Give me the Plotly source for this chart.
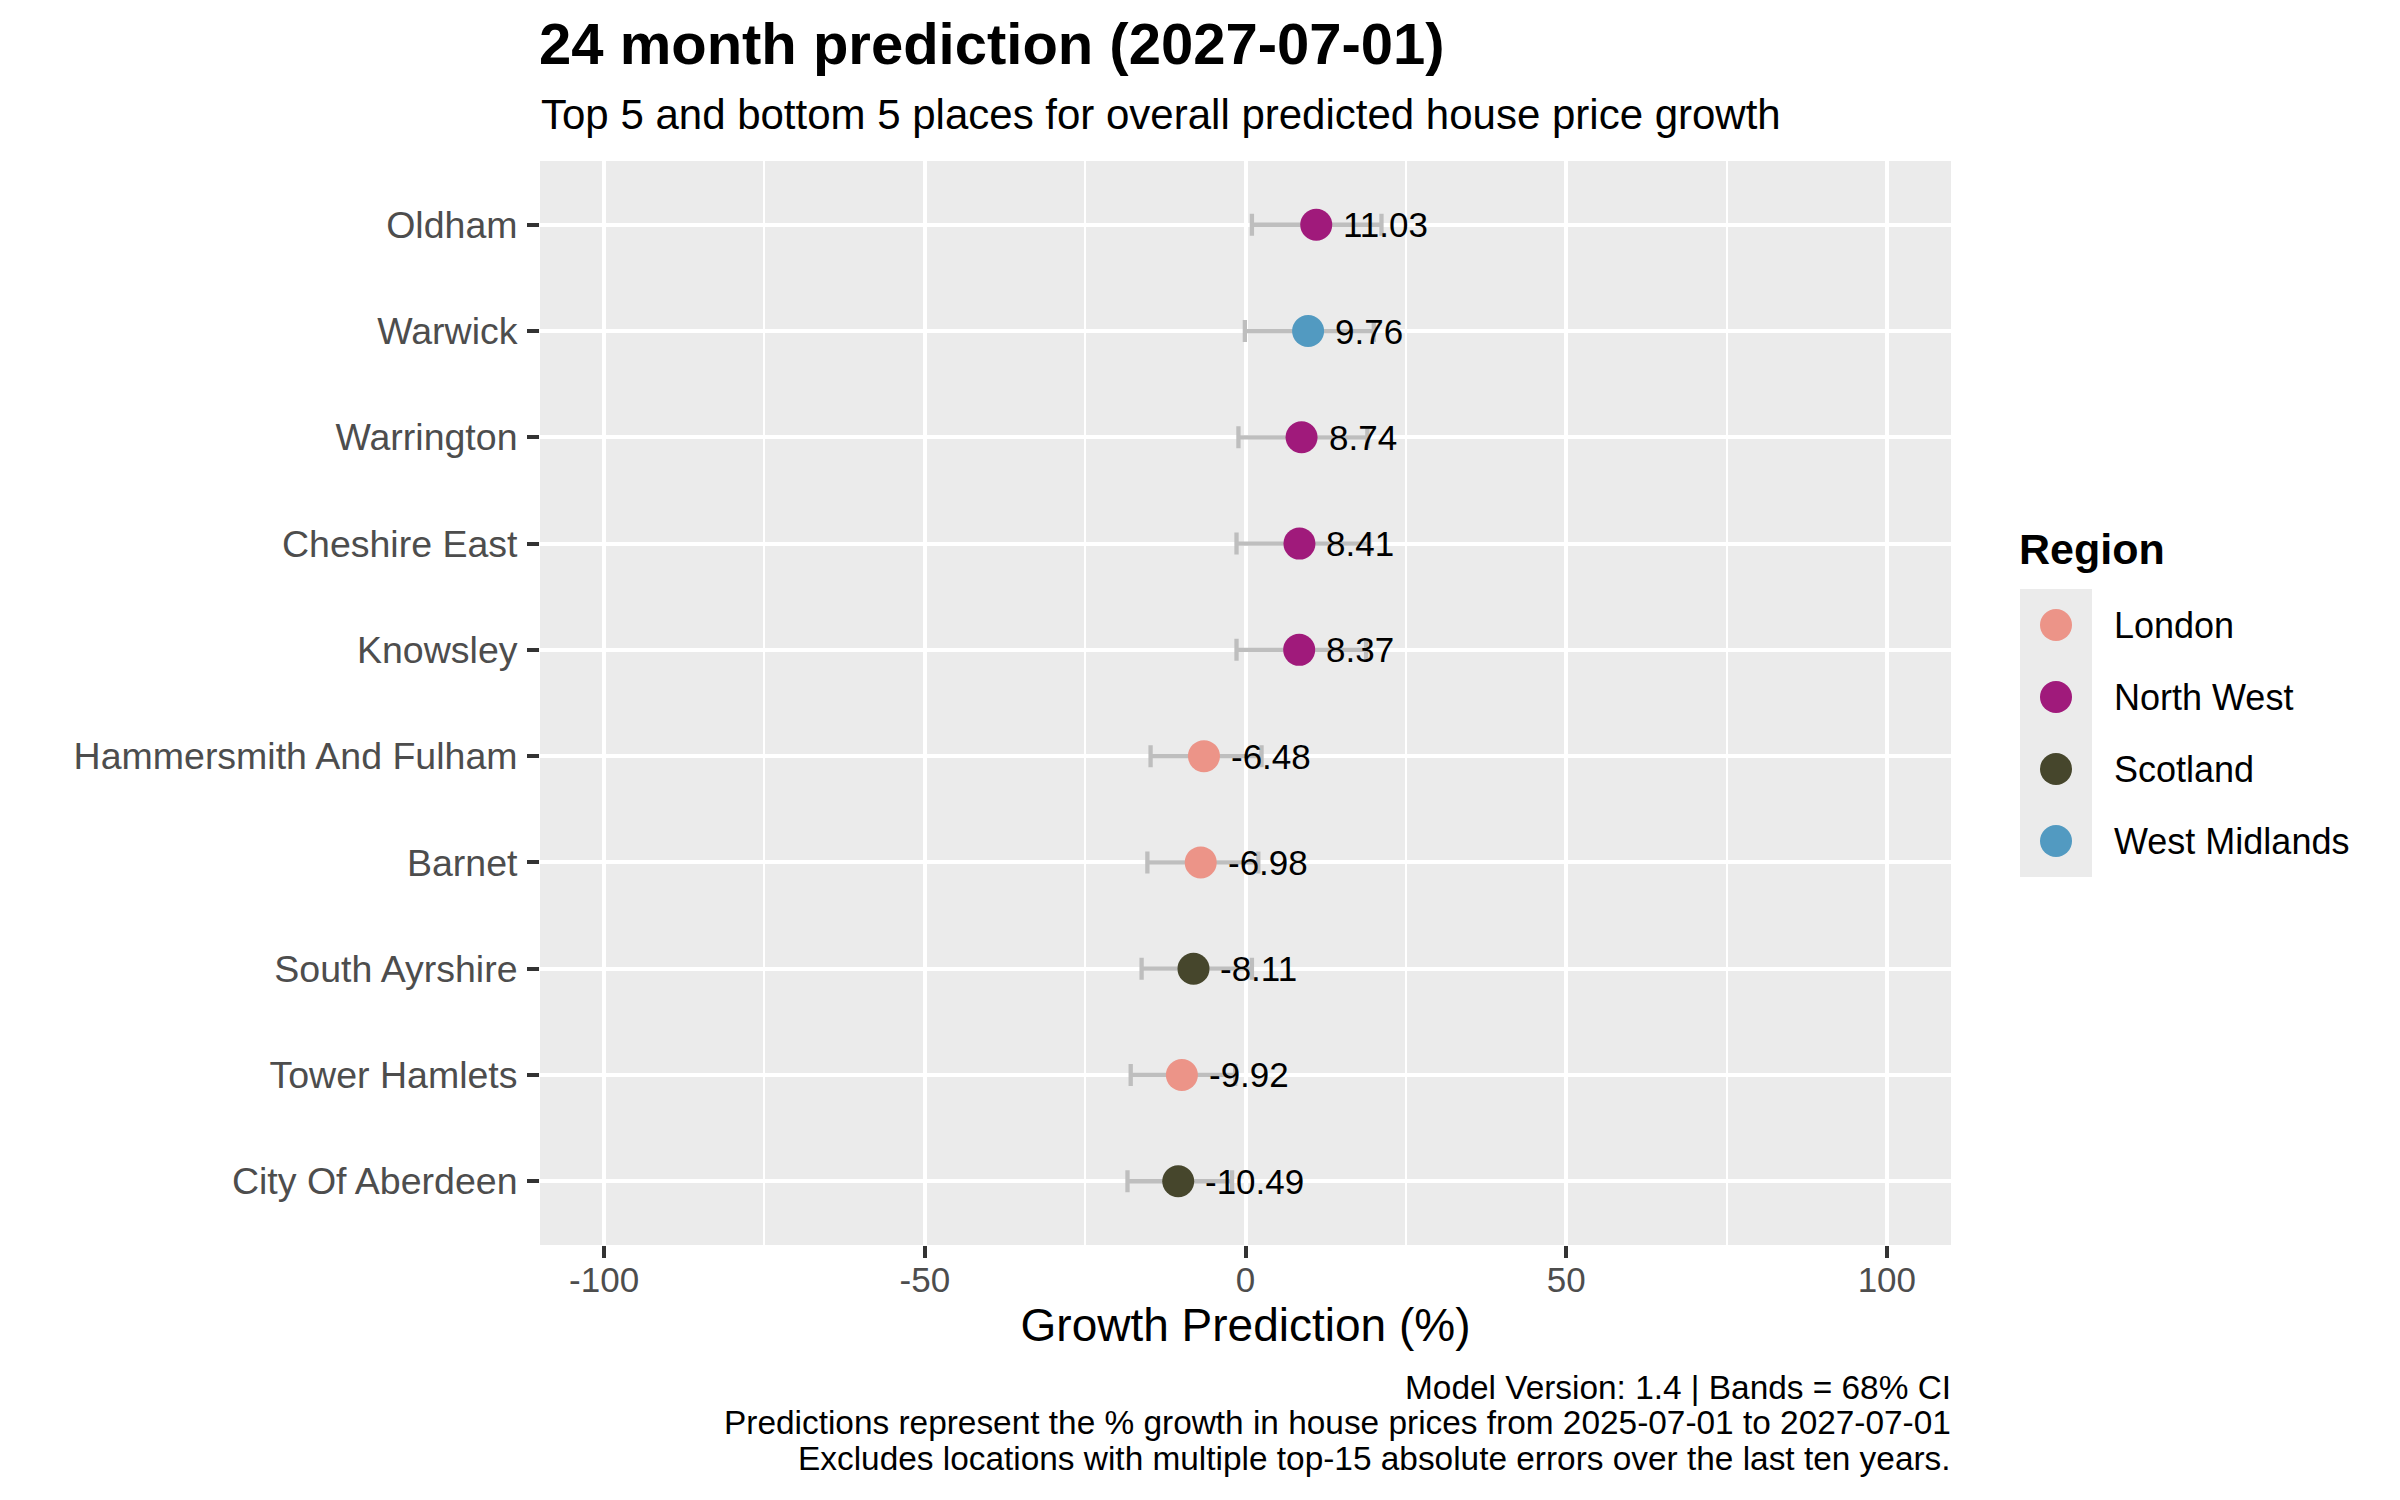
import plotly.graph_objects as go

# ---------------- data ----------------
places = ["Oldham", "Warwick", "Warrington", "Cheshire East", "Knowsley",
          "Hammersmith And Fulham", "Barnet", "South Ayrshire", "Tower Hamlets",
          "City Of Aberdeen"]
regions = ["North West", "West Midlands", "North West", "North West", "North West",
           "London", "London", "Scotland", "London", "Scotland"]
growth = [11.03, 9.76, 8.74, 8.41, 8.37, -6.48, -6.98, -8.11, -9.92, -10.49]
ci_low = [1.0, -0.1, -1.1, -1.4, -1.4, -14.8, -15.3, -16.2, -17.9, -18.4]
ci_high = [21.2, 20.0, 19.0, 19.3, 18.8, 2.5, 2.0, 1.0, -1.6, -2.1]

region_names = ["London", "North West", "Scotland", "West Midlands"]
region_colors = ["#EC9488", "#A01A7B", "#46462C", "#529AC1"]

x_ticks = [-100, -50, 0, 50, 100]
x_range = [-110, 110]

title_text = "<b>24 month prediction (2027-07-01)</b>"
subtitle_text = "Top 5 and bottom 5 places for overall predicted house price growth"
x_title = "Growth Prediction (%)"
legend_title = "<b>Region</b>"
caption_lines = [
    "Model Version: 1.4 | Bands = 68% CI",
    "Predictions represent the % growth in house prices from 2025-07-01 to 2027-07-01",
    "Excludes locations with multiple top-15 absolute errors over the last ten years.",
]

# ---------------- layout helpers (pixel geometry) ----------------
# the page body has an 8px margin, so the figure is drawn 8px in from the corner
OFF = 8
W, H = 2400 - OFF, 1500 - OFF
FONT = "Liberation Sans, Arial, Helvetica, sans-serif"


def px(xp):
    return (xp - OFF) / W


def py(yp):
    return 1 - (yp - OFF) / H


PANEL_L, PANEL_R, PANEL_T, PANEL_B = 540, 1951, 161, 1245

fig = go.Figure()

color_of = dict(zip(region_names, region_colors))
for reg in region_names:
    idx = [i for i, r in enumerate(regions) if r == reg]
    if not idx:
        continue
    xs = [growth[i] for i in idx]
    ys = [places[i] for i in idx]
    plus = [ci_high[i] - growth[i] for i in idx]
    minus = [growth[i] - ci_low[i] for i in idx]
    fig.add_trace(go.Scatter(
        x=xs, y=ys, mode="markers", name=reg, showlegend=False,
        marker=dict(size=32, color=color_of[reg], line=dict(width=0)),
        error_x=dict(type="data", symmetric=False, array=plus, arrayminus=minus,
                     color="#BEBEBE", thickness=4.3, width=11),
        xaxis="x", yaxis="y",
    ))

annotations = []
# value labels
for p, g in zip(places, growth):
    annotations.append(dict(
        x=g, y=p, xref="x", yref="y", text=f"{g:.2f}", showarrow=False,
        xanchor="left", yanchor="middle", xshift=25,
        font=dict(family=FONT, size=35, color="#000000"),
    ))

# manual legend (keys drawn on a small dedicated axis)
fig.add_trace(go.Scatter(
    x=[0.5] * len(region_names), y=region_names, mode="markers", showlegend=False,
    marker=dict(size=32, color=region_colors, line=dict(width=0)),
    xaxis="x2", yaxis="y2", hoverinfo="y",
))
for reg in region_names:
    annotations.append(dict(
        x=0.5, y=reg, xref="x2", yref="y2", text=reg, showarrow=False,
        xanchor="left", yanchor="middle", xshift=56,
        font=dict(family=FONT, size=36, color="#000000"),
    ))
annotations.append(dict(
    x=px(2017), y=py(549), xref="paper", yref="paper", text=legend_title,
    showarrow=False, xanchor="left", yanchor="middle",
    font=dict(family=FONT, size=43, color="#000000"),
))

# subtitle
annotations.append(dict(
    x=px(539), y=py(115), xref="paper", yref="paper", text=subtitle_text,
    showarrow=False, xanchor="left", yanchor="middle",
    font=dict(family=FONT, size=42, color="#000000"),
))

# caption
for line, yc in zip(caption_lines, [1387, 1422, 1458]):
    annotations.append(dict(
        x=px(1953), y=py(yc), xref="paper", yref="paper", text=line,
        showarrow=False, xanchor="right", yanchor="middle",
        font=dict(family=FONT, size=33.4, color="#000000"),
    ))

fig.update_layout(
    width=W, height=H,
    margin=dict(l=0, r=0, t=0, b=0, autoexpand=False),
    paper_bgcolor="#FFFFFF",
    plot_bgcolor="#EBEBEB",
    font=dict(family=FONT, color="#000000"),
    showlegend=False,
    title=dict(text=title_text, x=px(539), xref="paper", xanchor="left",
               y=py(44), yref="paper", yanchor="middle",
               font=dict(family=FONT, size=58, color="#000000")),
    xaxis=dict(
        domain=[px(PANEL_L), px(PANEL_R)], anchor="y",
        range=x_range, tickvals=x_ticks, ticktext=[str(v) for v in x_ticks],
        showgrid=True, gridcolor="#FFFFFF", gridwidth=4.3, zeroline=False,
        showline=False, ticks="outside", ticklen=12, tickwidth=4.3, tickcolor="#333333",
        tickfont=dict(family=FONT, size=35, color="#4D4D4D"),
        ticklabelstandoff=-8,
        minor=dict(tickvals=[-75, -25, 25, 75], showgrid=True, gridcolor="#FFFFFF",
                   gridwidth=2.2, ticks=""),
        title=dict(text=x_title, font=dict(family=FONT, size=46, color="#000000"),
                   standoff=8),
        automargin=False, fixedrange=True,
    ),
    yaxis=dict(
        domain=[py(PANEL_B), py(PANEL_T)], anchor="x",
        type="category", categoryorder="array", categoryarray=places,
        range=[len(places) - 0.4, -0.6],
        showgrid=True, gridcolor="#FFFFFF", gridwidth=4.3, zeroline=False,
        showline=False, ticks="outside", ticklen=12, tickwidth=4.3, tickcolor="#333333",
        tickfont=dict(family=FONT, size=37.5, color="#4D4D4D"),
        ticklabelstandoff=2,
        automargin=False, fixedrange=True,
    ),
    xaxis2=dict(
        domain=[px(2020), px(2092)], anchor="y2", range=[0, 1],
        visible=False, fixedrange=True,
    ),
    yaxis2=dict(
        domain=[py(877), py(589)], anchor="x2", type="category",
        categoryorder="array", categoryarray=region_names,
        range=[len(region_names) - 0.5, -0.5],
        visible=False, fixedrange=True,
    ),
    annotations=annotations,
)

fig.write_html("out.html")
